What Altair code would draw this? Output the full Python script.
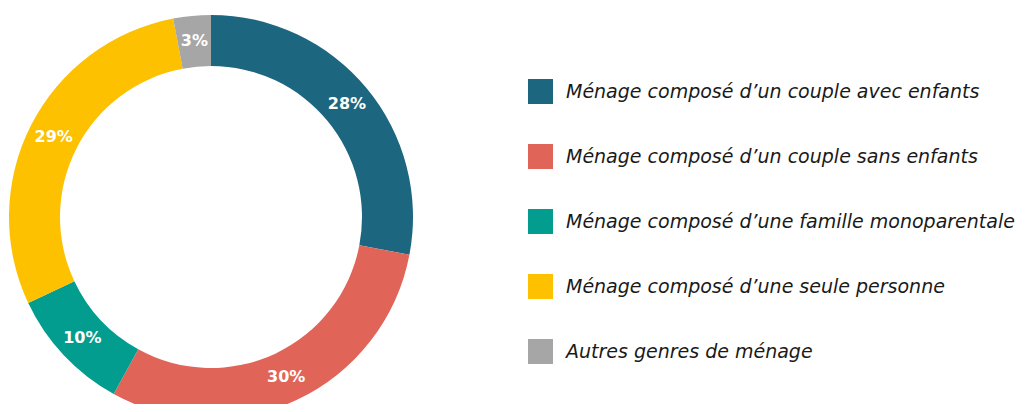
import altair as alt
import pandas as pd

categories = [
    "Ménage composé d’un couple avec enfants",
    "Ménage composé d’un couple sans enfants",
    "Ménage composé d’une famille monoparentale",
    "Ménage composé d’une seule personne",
    "Autres genres de ménage",
]
values = [28, 30, 10, 29, 3]
labels = ["28%", "30%", "10%", "29%", "3%"]
colors = ["#1d6680", "#e16458", "#039d8f", "#fdc100", "#a6a6a6"]

df = pd.DataFrame({
    "cat": categories,
    "val": values,
    "lab": labels,
    "ord": list(range(len(categories))),
})

CX, CY = 203, 209

base = alt.Chart(df).encode(
    theta=alt.Theta("val:Q", stack=True),
    order=alt.Order("ord:Q"),
)

arcs = base.mark_arc(outerRadius=202, innerRadius=151, stroke=None).encode(
    x=alt.value(CX),
    y=alt.value(CY),
    color=alt.Color(
        "cat:N",
        sort=None,
        scale=alt.Scale(domain=categories, range=colors),
        legend=alt.Legend(
            title=None,
            orient="none",
            legendX=520,
            legendY=71,
            direction="vertical",
            symbolType="square",
            symbolSize=625,
            symbolStrokeWidth=0,
            labelFont="DejaVu Sans",
            labelFontStyle="italic",
            labelFontSize=19,
            labelColor="#1a1a1a",
            labelOffset=13,
            labelLimit=600,
            rowPadding=40,
            padding=0,
        ),
    ),
)

texts = base.mark_text(
    font="DejaVu Sans", fontSize=16, fontWeight="bold",
    color="white", align="center", baseline="middle",
).encode(
    x=alt.value(CX),
    y=alt.value(CY),
    radius=alt.value(176.5),
    text="lab:N",
)

chart = (arcs + texts).properties(
    width=1013, height=396, padding=0,
    autosize=alt.AutoSizeParams(type="none"),
).configure_view(stroke=None)

chart.save("out.html", embed_options={"renderer": "svg", "actions": False})
